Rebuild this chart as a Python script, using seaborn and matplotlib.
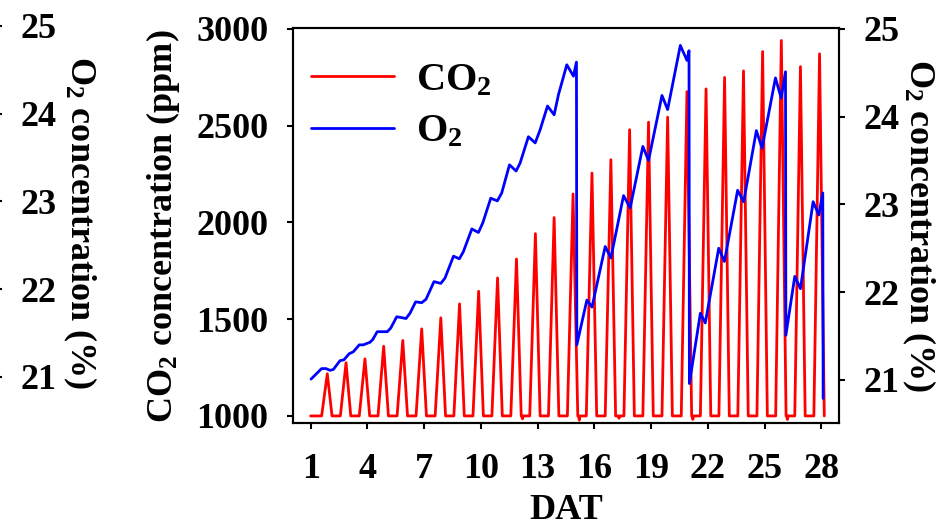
import matplotlib
matplotlib.use("Agg")
import numpy as np
import pandas as pd
import matplotlib.pyplot as plt
import seaborn as sns

# CO2: daily peaks (day after transplanting, ppm), baseline in between
co2_peak_day = [1.88, 2.87, 3.87, 4.86, 5.87, 6.87, 7.88, 8.87, 9.88, 10.88,
                11.88, 12.88, 13.87, 14.87, 15.87, 16.87, 17.86, 18.86, 19.87,
                20.89, 21.90, 22.88, 23.88, 24.89, 25.88, 26.89, 27.90]
co2_peak_ppm = [1218, 1275, 1295, 1360, 1390, 1450, 1507, 1579, 1644, 1713,
                1811, 1942, 2025, 2147, 2255, 2324, 2479, 2518, 2544, 2676,
                2690, 2749, 2783, 2883, 2940, 2805, 2871]
co2_base_ppm = 1000
co2_start_day = 1.0
co2_rise = 0.30
co2_fall = 0.25
# small notches below baseline
co2_dip_day = [12.20, 15.20, 17.30, 21.20, 26.20]
co2_dip_ppm = [985, 978, 988, 982, 982]

# O2 (%)
o2_day = [1.02, 1.58, 1.81, 2.02, 2.20, 2.55, 2.76, 3.04, 3.25, 3.57,
          3.78, 4.14, 4.28, 4.52, 5.05, 5.23, 5.55, 5.81, 6.04, 6.25,
          6.55, 6.87, 7.10, 7.52, 7.88, 8.10, 8.55, 8.86, 9.07, 9.52,
          9.87, 10.10, 10.52, 10.87, 11.10, 11.51, 11.86, 12.07, 12.51, 12.87,
          13.13, 13.52, 13.87, 14.10, 14.54, 14.89, 15.05, 15.07, 15.60, 15.87,
          16.57, 16.87, 17.54, 17.89, 18.56, 18.86, 19.57, 19.87, 20.54, 20.89,
          21.00, 21.02, 21.60, 21.86, 22.57, 22.87, 23.57, 23.89, 24.56, 24.86,
          25.57, 25.87, 26.10, 26.12, 26.59, 26.89, 27.56, 27.86, 28.07, 28.09]
o2_pct = [21.01, 21.13, 21.13, 21.11, 21.12, 21.22, 21.23, 21.30, 21.32, 21.40,
          21.40, 21.43, 21.46, 21.55, 21.55, 21.59, 21.72, 21.71, 21.70, 21.76,
          21.89, 21.88, 21.92, 22.12, 22.10, 22.16, 22.41, 22.38, 22.46, 22.72,
          22.68, 22.79, 23.07, 23.04, 23.13, 23.45, 23.38, 23.47, 23.77, 23.70,
          23.85, 24.12, 24.02, 24.25, 24.59, 24.46, 24.62, 21.40, 21.91, 21.83,
          22.52, 22.39, 23.10, 22.96, 23.66, 23.50, 24.24, 24.08, 24.81, 24.64,
          24.75, 20.96, 21.76, 21.65, 22.50, 22.35, 23.16, 23.03, 23.84, 23.64,
          24.44, 24.21, 24.51, 21.51, 22.18, 22.04, 23.03, 22.88, 23.13, 20.79]

x_ticks = [1, 4, 7, 10, 13, 16, 19, 22, 25, 28]
co2_ticks = [1000, 1500, 2000, 2500, 3000]
o2_ticks = [21, 22, 23, 24, 25]

# build the CO2 trace from the peaks
pts = [(co2_start_day, co2_base_ppm)]
for d, p in zip(co2_peak_day, co2_peak_ppm):
    pts += [(d - co2_rise, co2_base_ppm), (d, p), (d + co2_fall, co2_base_ppm)]
for d, v in zip(co2_dip_day, co2_dip_ppm):
    pts += [(d - 0.04, co2_base_ppm), (d, v), (d + 0.04, co2_base_ppm)]
co2_df = pd.DataFrame(sorted(pts), columns=["day", "ppm"])
o2_df = pd.DataFrame({"day": o2_day, "pct": o2_pct})

sns.set_style("ticks")
plt.rcParams["font.family"] = ["Liberation Serif", "DejaVu Serif"]
plt.rcParams["font.weight"] = "bold"
plt.rcParams["mathtext.fontset"] = "custom"
plt.rcParams["mathtext.rm"] = "Liberation Serif:bold"
plt.rcParams["mathtext.it"] = "Liberation Serif:bold:italic"
plt.rcParams["mathtext.bf"] = "Liberation Serif:bold"
plt.rcParams["mathtext.default"] = "rm"
for key in ("text.color", "axes.labelcolor", "xtick.color", "ytick.color",
            "axes.edgecolor"):
    plt.rcParams[key] = "black"

tick_fs = 26
label_fs = 26

fig = plt.figure(figsize=(9.42, 5.27), dpi=100)
left, bottom, width, height = 0.3107, 0.1968, 0.5800, 0.7495
ax = fig.add_axes([left, bottom, width, height])

sns.lineplot(data=co2_df, x="day", y="ppm", ax=ax, color="#ff0000",
             linewidth=2.0, estimator=None, sort=False, label="CO$_2$")
ax2 = ax.twinx()
sns.lineplot(data=o2_df, x="day", y="pct", ax=ax2, color="#0000ff",
             linewidth=2.0, estimator=None, sort=False, label="O$_2$")

ax.set_xlim(0.05, 28.93)
ax.set_ylim(962, 3003)
ax2.set_ylim(20.507, 25.005)
ax.set_xticks(x_ticks)
ax.set_yticks(co2_ticks)
ax2.set_yticks(o2_ticks)

for a in (ax, ax2):
    for s in a.spines.values():
        s.set_linewidth(1.5)
        s.set_color("black")
    a.tick_params(direction="out", length=4.5, width=1.5, labelsize=tick_fs, pad=13,
                  colors="black")
ax.tick_params(axis="x", pad=17)

ax.set_xlabel("DAT", fontsize=label_fs, fontweight="bold", labelpad=6)
ax.set_ylabel("CO$_2$ concentration (ppm)", fontsize=label_fs, fontweight="bold", labelpad=10)
ax2.set_ylabel("O$_2$ concentration (%)", fontsize=label_fs, fontweight="bold",
               rotation=270, labelpad=27)

h1, l1 = ax.get_legend_handles_labels()
h2, l2 = ax2.get_legend_handles_labels()
if ax2.get_legend() is not None:
    ax2.get_legend().remove()
ax.legend(h1 + h2, l1 + l2, loc="upper left", frameon=False, fontsize=29,
          handlelength=2.05, handletextpad=0.55, labelspacing=0.35,
          borderaxespad=0.0, bbox_to_anchor=(0.004, 0.955))

# neighbouring panel's right O2 axis, cut off at the left edge
axl = fig.add_axes([-0.5, bottom + 3 / 527, 0.4958, height])
axl.set_ylim(20.507, 25.005)
axl.set_yticks(o2_ticks)
axl.set_xticks([])
axl.yaxis.tick_right()
axl.yaxis.set_label_position("right")
for k in ("left", "top", "bottom"):
    axl.spines[k].set_visible(False)
axl.spines["right"].set_linewidth(1.5)
axl.patch.set_visible(False)
axl.tick_params(axis="y", direction="out", length=4.5, width=1.5, labelsize=tick_fs, pad=13,
                colors="black")
axl.set_ylabel("O$_2$ concentration (%)", fontsize=label_fs, fontweight="bold",
               rotation=270, labelpad=30)

fig.savefig("out.png", dpi=100)
